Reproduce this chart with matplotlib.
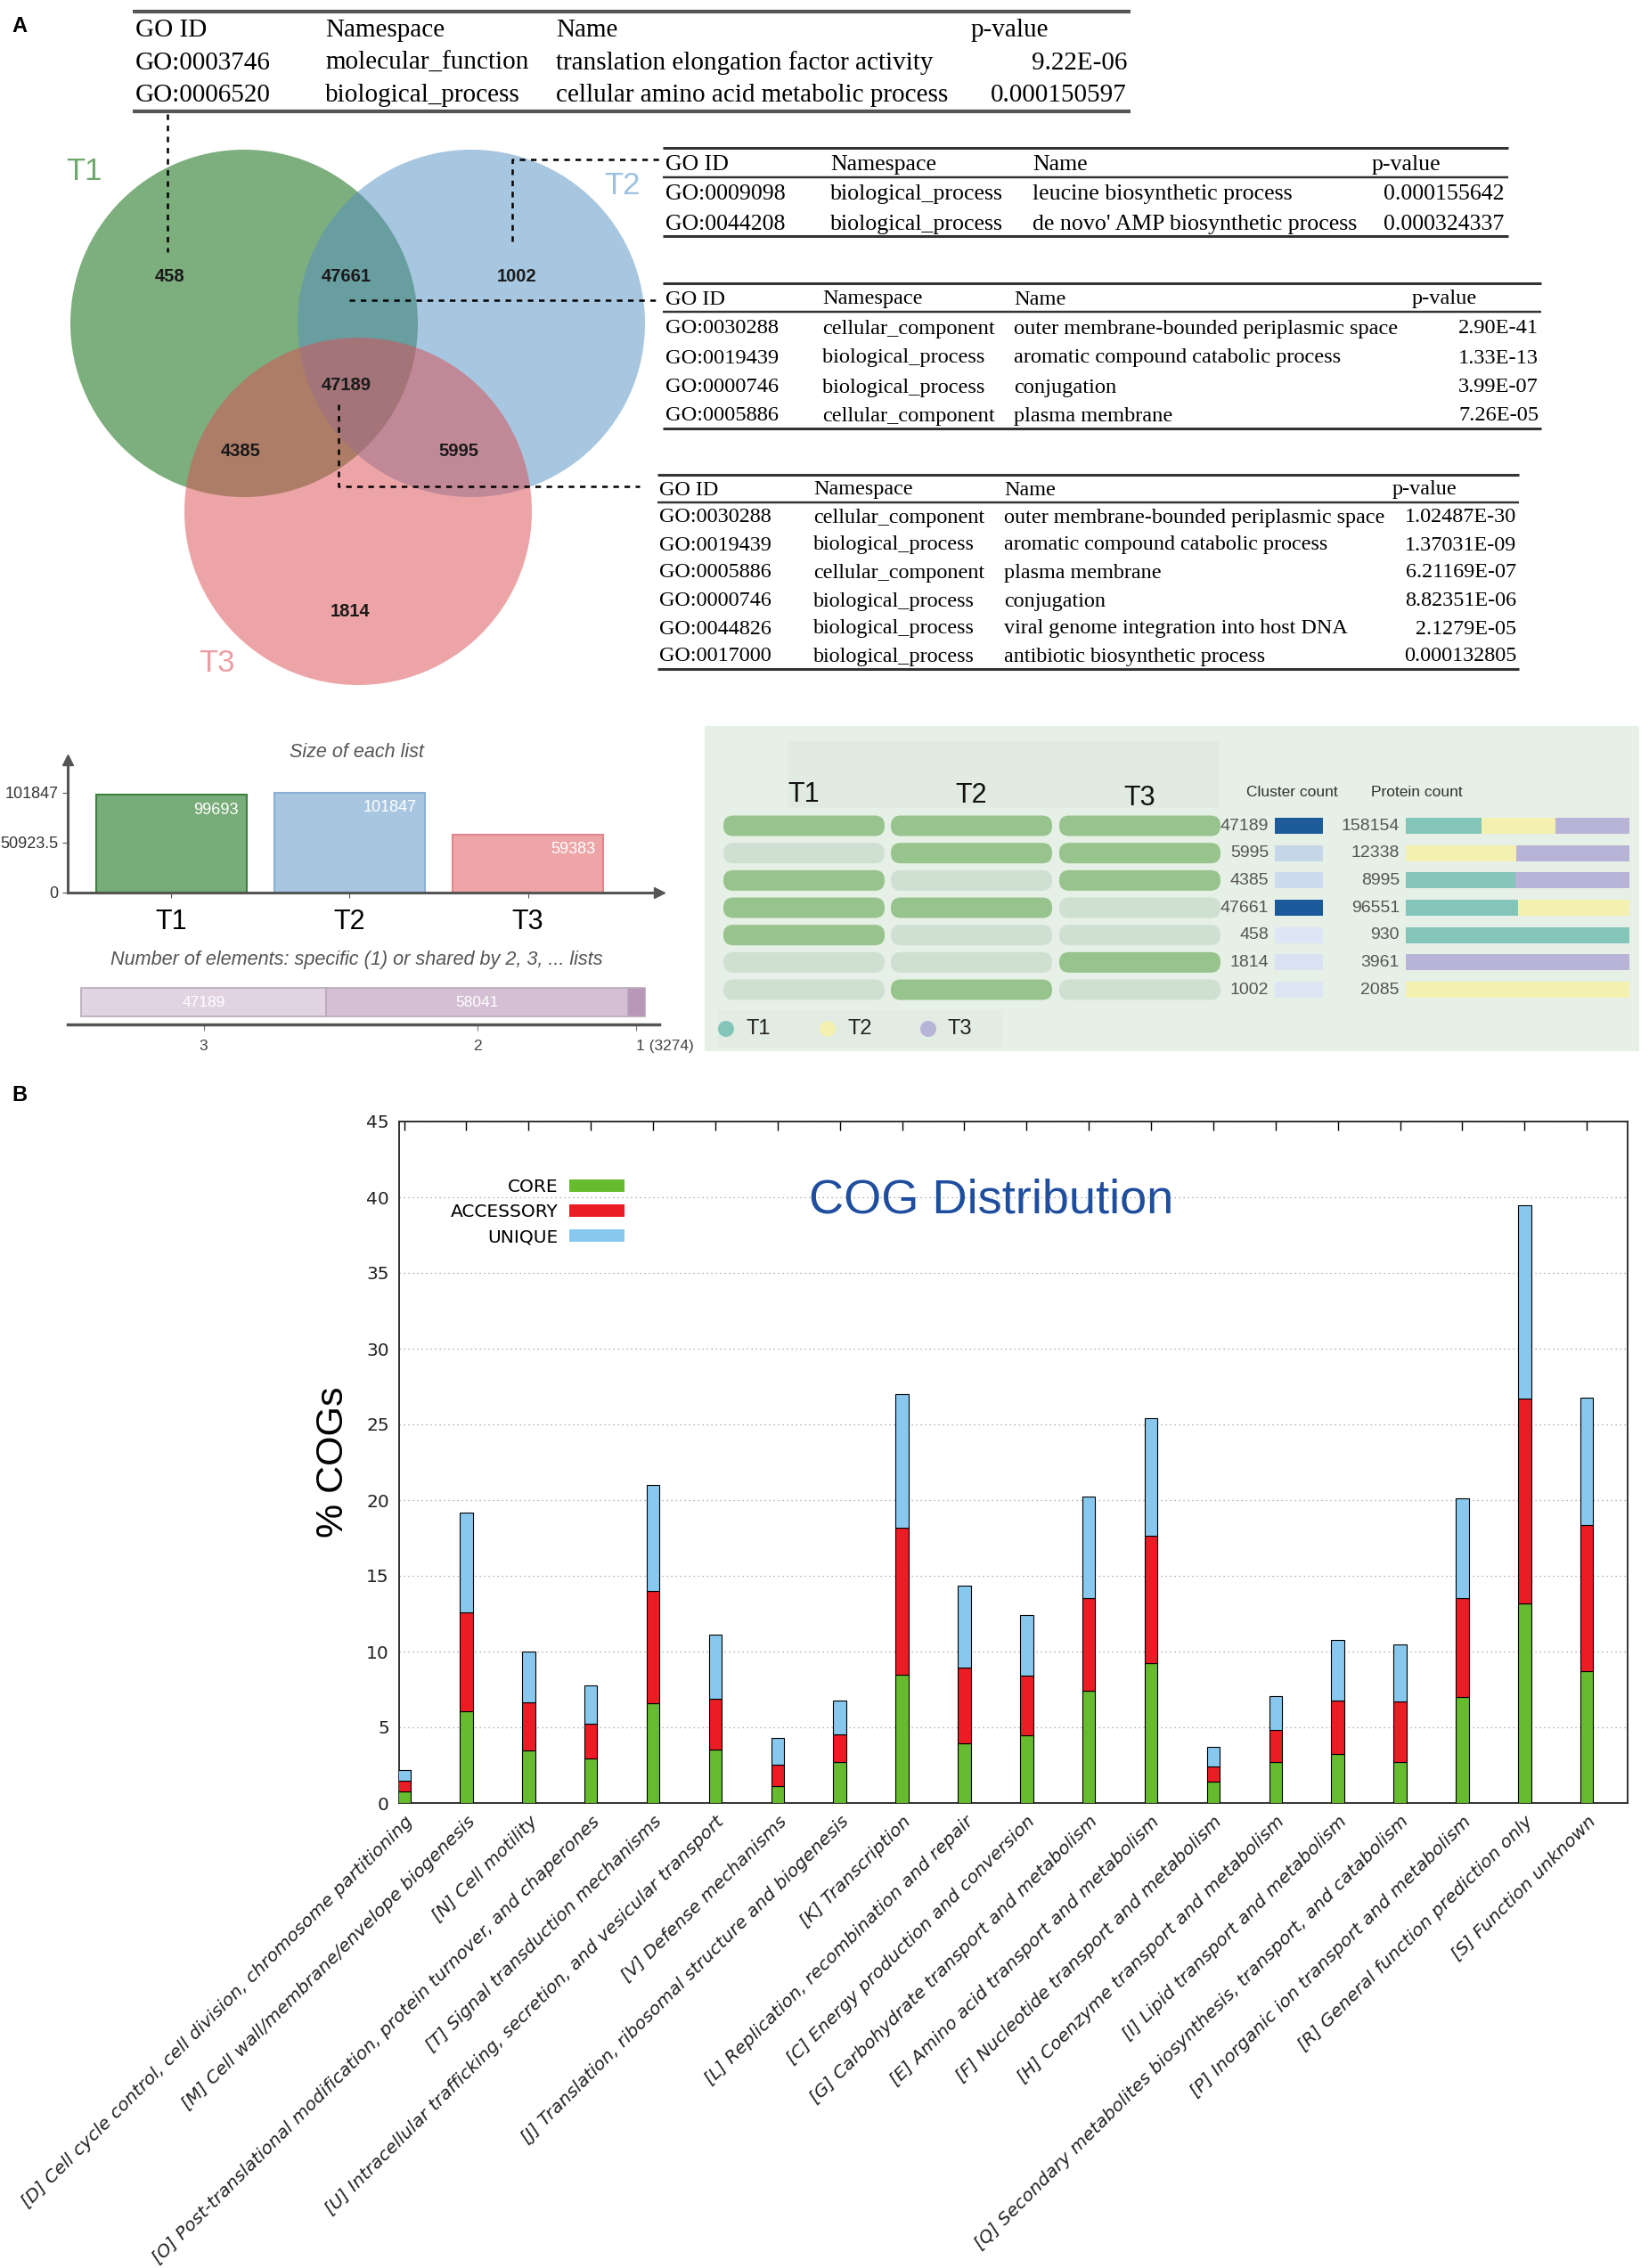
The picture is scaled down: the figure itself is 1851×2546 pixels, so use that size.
import numpy as np
import matplotlib
matplotlib.use("Agg")
import matplotlib.pyplot as plt
from matplotlib.patches import Circle, FancyBboxPatch, Rectangle, Patch
from matplotlib.colors import LinearSegmentedColormap, Normalize

W, H, DPI = 1851, 2546, 100
SERIF = "Liberation Serif"
SANS = "Liberation Sans"

# ---------------- data ----------------
# GO enrichment tables: (GO ID, namespace, name, p-value)
go_t1_only = [("GO:0003746", "molecular_function", "translation elongation factor activity", "9.22E-06"),
              ("GO:0006520", "biological_process", "cellular amino acid metabolic process", "0.000150597")]
go_t2_only = [("GO:0009098", "biological_process", "leucine biosynthetic process", "0.000155642"),
              ("GO:0044208", "biological_process", "de novo' AMP biosynthetic process", "0.000324337")]
go_t1_t2 = [("GO:0030288", "cellular_component", "outer membrane-bounded periplasmic space", "2.90E-41"),
            ("GO:0019439", "biological_process", "aromatic compound catabolic process", "1.33E-13"),
            ("GO:0000746", "biological_process", "conjugation", "3.99E-07"),
            ("GO:0005886", "cellular_component", "plasma membrane", "7.26E-05")]
go_core = [("GO:0030288", "cellular_component", "outer membrane-bounded periplasmic space", "1.02487E-30"),
           ("GO:0019439", "biological_process", "aromatic compound catabolic process", "1.37031E-09"),
           ("GO:0005886", "cellular_component", "plasma membrane", "6.21169E-07"),
           ("GO:0000746", "biological_process", "conjugation", "8.82351E-06"),
           ("GO:0044826", "biological_process", "viral genome integration into host DNA", "2.1279E-05"),
           ("GO:0017000", "biological_process", "antibiotic biosynthetic process", "0.000132805")]

# venn
venn_sets = ["T1", "T2", "T3"]
venn_regions = ["100", "010", "001", "110", "101", "011", "111"]
venn_counts = [458, 1002, 1814, 47661, 4385, 5995, 47189]

# size of each list / shared
list_names = ["T1", "T2", "T3"]
list_sizes = [99693, 101847, 59383]
shared_labels = ["3", "2", "1 (3274)"]
shared_counts = [47189, 58041, 3274]

# cluster table
combo_members = [(1, 1, 1), (0, 1, 1), (1, 0, 1), (1, 1, 0), (1, 0, 0), (0, 0, 1), (0, 1, 0)]
cluster_counts = [47189, 5995, 4385, 47661, 458, 1814, 1002]
protein_counts = [158154, 12338, 8995, 96551, 930, 3961, 2085]
protein_t1 = [53400, 0, 4400, 48300, 930, 0, 0]
protein_t2 = [52600, 6100, 0, 48251, 0, 0, 2085]
protein_t3 = [52154, 6238, 4595, 0, 0, 3961, 0]

# COG distribution
cog_cats = ["[D] Cell cycle control, cell division, chromosome partitioning",
            "[M] Cell wall/membrane/envelope biogenesis",
            "[N] Cell motility",
            "[O] Post-translational modification, protein turnover, and chaperones",
            "[T] Signal transduction mechanisms",
            "[U] Intracellular trafficking, secretion, and vesicular transport",
            "[V] Defense mechanisms",
            "[J] Translation, ribosomal structure and biogenesis",
            "[K] Transcription",
            "[L] Replication, recombination and repair",
            "[C] Energy production and conversion",
            "[G] Carbohydrate transport and metabolism",
            "[E] Amino acid transport and metabolism",
            "[F] Nucleotide transport and metabolism",
            "[H] Coenzyme transport and metabolism",
            "[I] Lipid transport and metabolism",
            "[Q] Secondary metabolites biosynthesis, transport, and catabolism",
            "[P] Inorganic ion transport and metabolism",
            "[R] General function prediction only",
            "[S] Function unknown"]
core = np.array([0.75, 6.07, 3.46, 2.92, 6.61, 3.52, 1.14, 2.71, 8.48, 3.97,
                 4.48, 7.42, 9.26, 1.41, 2.68, 3.22, 2.68, 7.00, 13.17, 8.72])
accessory = np.array([0.75, 6.53, 3.18, 2.34, 7.37, 3.39, 1.41, 1.80, 9.70, 4.96,
                      3.94, 6.11, 8.38, 1.02, 2.13, 3.57, 4.02, 6.53, 13.55, 9.65])
unique = np.array([0.70, 6.55, 3.37, 2.49, 7.00, 4.18, 1.75, 2.28, 8.84, 5.41,
                   3.99, 6.70, 7.79, 1.27, 2.25, 4.00, 3.76, 6.58, 12.74, 8.38])

fig = plt.figure(figsize=(W / DPI, H / DPI), dpi=DPI)


def px_axes(x0, y0, x1, y1):
    return fig.add_axes([x0 / W, 1 - y1 / H, (x1 - x0) / W, (y1 - y0) / H])


bg = px_axes(0, 0, W, H)
bg.set_xlim(0, W)
bg.set_ylim(H, 0)
bg.axis("off")

bg.text(13, 29, "A", fontsize=17, fontweight="bold", family=SANS, va="center")
bg.text(13, 1229, "B", fontsize=17, fontweight="bold", family=SANS, va="center")


# ---------------- GO tables ----------------
def draw_table(rows, xcols, xp_head, xp_val, xline, ytop, yhead, yrule, yrows, ybot, fs, lc="#333", lw=2.2):
    bg.plot(xline, [ytop, ytop], color=lc, lw=lw, solid_capstyle="butt")
    if yrule is not None:
        bg.plot(xline, [yrule, yrule], color=lc, lw=lw * 0.8, solid_capstyle="butt")
    bg.plot(xline, [ybot, ybot], color=lc, lw=lw, solid_capstyle="butt")
    for cx, h in zip(xcols, ["GO ID", "Namespace", "Name"]):
        bg.text(cx, yhead, h, fontsize=fs, family=SERIF, va="center")
    bg.text(xp_head, yhead, "p-value", fontsize=fs, family=SERIF, va="center")
    for y, row in zip(yrows, rows):
        for cx, val in zip(xcols, row[:3]):
            bg.text(cx, y, val, fontsize=fs, family=SERIF, va="center")
        bg.text(xp_val, y, row[3], fontsize=fs, family=SERIF, va="center", ha="right")


draw_table(go_t1_only, [152, 365, 624], 1090, 1265, [149, 1269], 13, 34, None, [71, 107], 125, 21, lc="#555", lw=3)
draw_table(go_t2_only, [747, 932, 1159], 1540, 1688, [744, 1693], 166, 185, 199, [218, 252], 265, 18.6)
draw_table(go_t1_t2, [747, 923, 1138], 1585, 1727, [744, 1730], 318, 336, 350, [369, 402, 435, 467], 481, 17.6)
draw_table(go_core, [740, 913, 1127], 1563, 1702, [738, 1705], 533, 550, 564,
           [581, 612, 643, 675, 706, 737], 751, 17.4)

# ---------------- Venn ----------------
venn_centers = [(274, 363), (529, 363), (402, 574)]
venn_fill = ["#006000", "#548FC2", "#DC4E54"]
venn_text_col = ["#6FA86F", "#9DC1E0", "#EA9EA2"]
venn_label_pos = [(94, 193), (698, 209), (243, 744)]
for (cx, cy), c in zip(venn_centers, venn_fill):
    bg.add_patch(Circle((cx, cy), 195, facecolor=c, alpha=0.51, lw=0))
for name, (lx, ly), c in zip(venn_sets, venn_label_pos, venn_text_col):
    bg.text(lx, ly, name, fontsize=25, color=c, family=SANS, ha="center", va="center")
region_pos = {"100": (191, 311), "110": (389, 311), "010": (580, 311), "111": (389, 433),
              "101": (270, 507), "011": (515, 507), "001": (393, 686)}
for reg, cnt in zip(venn_regions, venn_counts):
    rx, ry = region_pos[reg]
    bg.text(rx, ry, str(cnt), fontsize=14.5, fontweight="bold", family=SANS, ha="center", va="center",
            color="#1a1a1a")

dash = dict(color="k", lw=1.8, ls=(0, (2.5, 2.5)))
bg.plot([188, 188], [128, 283], **dash)
bg.plot([575, 575, 742], [271, 179, 179], **dash)
bg.plot([392, 742], [337, 337], **dash)
bg.plot([380, 380, 718], [454, 546, 546], **dash)

# ---------------- Size of each list ----------------
bar_cols = ["#78AC78", "#A8C6E0", "#EDA5A8"]
bar_edges = ["#3F7F3F", "#8AB0D4", "#E3868C"]
sa = px_axes(76, 853, 740, 1002)
xs = np.arange(len(list_names))
sa.bar(xs, list_sizes, width=0.847, color=bar_cols, edgecolor=bar_edges, lw=1.5)
sa.set_xlim(-0.581, 2.737)
sa.set_ylim(0, max(list_sizes) * 1.33)
sa.set_yticks([0, max(list_sizes) / 2, max(list_sizes)])
sa.set_yticklabels(["0", "50923.5", "101847"], fontsize=13, family=SANS, color="#333")
sa.set_xticks(xs)
sa.set_xticklabels(list_names, fontsize=22, family=SANS)
sa.tick_params(axis="both", length=4, color="#555")
sa.tick_params(axis="x", pad=9)
for s in ["top", "right"]:
    sa.spines[s].set_visible(False)
for s in ["left", "bottom"]:
    sa.spines[s].set_color("#555")
    sa.spines[s].set_linewidth(2.2)
sa.plot(0, 1, "^", color="#555", ms=9, transform=sa.transAxes, clip_on=False)
sa.plot(1, 0, ">", color="#555", ms=9, transform=sa.transAxes, clip_on=False)
sa.set_facecolor("none")
for xi, v in zip(xs, list_sizes):
    sa.annotate(str(v), (xi + 0.42, v), xytext=(-6, -12), textcoords="offset points",
                ha="right", va="center", color="white", fontsize=13, family=SANS)
bg.text(400, 845, "Size of each list", fontsize=15.5, style="italic", color="#555", family=SANS,
        ha="center", va="center")
bg.text(400, 1077, "Number of elements: specific (1) or shared by 2, 3, ... lists", fontsize=15.6,
        style="italic", color="#555", family=SANS, ha="center", va="center")

# shared-by bar
sh = px_axes(76, 1100, 740, 1150)
total = sum(shared_counts)
lefts = np.cumsum([0] + shared_counts[:-1])
sh.barh(0, shared_counts, left=lefts, height=0.64, color=["#E2D3E2", "#D5BFD5", "#B897B8"],
        edgecolor="#B8A8B8", lw=1.2)
sh.set_xlim(-0.0237 * total, 1.0253 * total)
sh.set_ylim(-0.5, 0.5)
sh.set_xticks(lefts + np.array(shared_counts) / 2)
sh.set_xticklabels(shared_labels, fontsize=12.5, family=SANS, color="#444")
sh.get_xticklabels()[-1].set_horizontalalignment("left")
sh.set_yticks([])
for s in ["top", "right", "left"]:
    sh.spines[s].set_visible(False)
sh.spines["bottom"].set_color("#555")
sh.spines["bottom"].set_linewidth(2.5)
sh.tick_params(axis="x", length=5, color="#777", pad=7)
sh.set_facecolor("none")
for l, c in zip(lefts, shared_counts):
    if c > total * 0.1:
        sh.text(l + c / 2, 0, str(c), color="white", fontsize=12.5, family=SANS, ha="center", va="center")

# ---------------- cluster panel ----------------
rp = px_axes(791, 815, 1840, 1180)
rp.set_xlim(791, 1840)
rp.set_ylim(1180, 815)
rp.set_facecolor("#E6F0E6")
rp.set_xticks([])
rp.set_yticks([])
for s in rp.spines.values():
    s.set_visible(False)
rp.add_patch(Rectangle((885, 832), 483, 75, facecolor="#E1EBE1", lw=0))
rp.add_patch(Rectangle((806, 1134), 320, 42, facecolor="#E2ECE2", lw=0))

rows_y = 927 + 30.67 * np.arange(len(combo_members))
pill_x = [812, 1000, 1189]
for name, px, hy in zip(venn_sets, pill_x, [892, 893, 896]):
    rp.text(px + 90, hy, name, fontsize=22, family=SANS, ha="center", va="center", color="#111")
for y, members in zip(rows_y, combo_members):
    for px, m in zip(pill_x, members):
        rp.add_patch(FancyBboxPatch((px, y - 11.5), 181, 23, boxstyle="round,pad=0,rounding_size=11",
                                    facecolor="#97C38C" if m else "#CFE0D1", lw=0))

cmap = LinearSegmentedColormap.from_list("cl", ["#DDE6F4", "#1B5A9A"])
norm = Normalize(vmin=min(cluster_counts), vmax=max(cluster_counts))
rp.barh(rows_y, 54, left=1431, height=18, color=cmap(norm(cluster_counts)))
rp.text(1450, 890, "Cluster count", fontsize=12.5, family=SANS, ha="center", va="center", color="#333")
rp.text(1590, 890, "Protein count", fontsize=12.5, family=SANS, ha="center", va="center", color="#333")
for y, cc, pc in zip(rows_y, cluster_counts, protein_counts):
    rp.text(1424, y, str(cc), fontsize=14, family=SANS, ha="right", va="center", color="#555")
    rp.text(1571, y, str(pc), fontsize=14, family=SANS, ha="right", va="center", color="#555")

prot_cols = ["#84C5BA", "#F4F0B0", "#B8B4D8"]
pb = px_axes(1578, 815, 1829, 1180)
pb.set_xlim(0, 1)
pb.set_ylim(1180, 815)
pb.axis("off")
split = np.array([protein_t1, protein_t2, protein_t3], dtype=float)
frac = split / split.sum(axis=0)
left = np.zeros(len(rows_y))
for f, c in zip(frac, prot_cols):
    pb.barh(rows_y, f, left=left, height=18, color=c, lw=0)
    left += f

for name, cx, c in zip(venn_sets, [815, 929, 1042], prot_cols):
    rp.add_patch(Circle((cx, 1155), 9, facecolor=c, lw=0))
    rp.text(cx + 22, 1155, name, fontsize=17, family=SANS, va="center", color="#222")

# ---------------- COG distribution ----------------
ax = px_axes(448, 1259, 1827, 2024)
x = np.arange(len(cog_cats))
bw = 0.207
cog_cols = ["#66BB2E", "#EC1C24", "#88C8EE"]
ax.bar(x, core, bw, color=cog_cols[0], edgecolor="k", lw=0.8, zorder=3)
ax.bar(x, accessory, bw, bottom=core, color=cog_cols[1], edgecolor="k", lw=0.8, zorder=3)
ax.bar(x, unique, bw, bottom=core + accessory, color=cog_cols[2], edgecolor="k", lw=0.8, zorder=3)
ax.set_xlim(-0.08, 19.655)
ax.set_ylim(0, 45)
ax.set_yticks(np.arange(0, 46, 5))
ax.set_yticklabels([str(v) for v in range(0, 46, 5)], fontsize=14.5, family="DejaVu Sans", color="#222")
ax.yaxis.grid(True, linestyle=(0, (1, 3)), color="#999", lw=0.9)
ax.set_axisbelow(True)
ax.set_xticks(x)
ax.set_xticklabels(cog_cats, rotation=45, ha="right", va="top", rotation_mode="anchor",
                   fontsize=14.6, fontstyle="italic", family="DejaVu Sans", color="#222")
ax.tick_params(axis="x", top=True, bottom=True, direction="in", length=7, width=1, pad=8)
ax.tick_params(axis="y", length=0, pad=8)
for s in ax.spines.values():
    s.set_linewidth(1.3)
    s.set_color("#222")
ax.set_ylabel("% COGs", fontsize=31, family=SANS, labelpad=12)
ax.text((908 - 448) / 1379, (2024 - 1347) / 765, "COG Distribution", transform=ax.transAxes,
        fontsize=39, color="#1F4E9F", family=SANS, ha="left", va="center")
handles = [Patch(facecolor=c, edgecolor="none") for c in cog_cols]
ax.legend(handles, ["CORE", "ACCESSORY", "UNIQUE"], loc="upper right",
          bbox_to_anchor=((701 - 448) / 1379, (2024 - 1323) / 765), markerfirst=False,
          frameon=False, handlelength=3.1, handleheight=0.65, labelspacing=0.45,
          handletextpad=0.6, borderpad=0, borderaxespad=0,
          prop={"family": "DejaVu Sans", "size": 14.5})

fig.savefig("out.png", dpi=DPI)
